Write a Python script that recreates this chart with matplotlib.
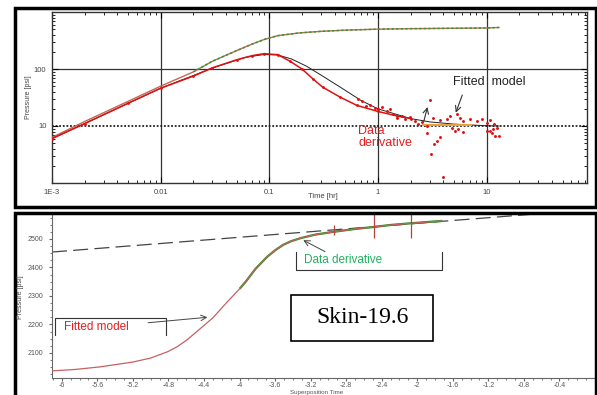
import matplotlib
matplotlib.use("Agg")
import matplotlib.pyplot as plt
from matplotlib.patches import Rectangle
from matplotlib.ticker import LogLocator, MultipleLocator, NullFormatter

plt.rcParams['font.family'] = ['Liberation Sans', 'DejaVu Sans']
plt.rcParams['axes.unicode_minus'] = False

# --- log-log panel (top) ---
t_press = [0.001, 0.002, 0.005, 0.01, 0.02, 0.03, 0.05, 0.07, 0.09, 0.12, 0.19, 0.3, 0.5, 1, 2, 5, 10, 13]
press = [6.3, 12, 27, 50, 89, 137, 210, 275, 330, 385, 430, 458, 480, 500, 510, 518, 525, 535]

t_deriv = [0.001, 0.002, 0.005, 0.01, 0.02, 0.03, 0.05, 0.07, 0.09, 0.12, 0.155, 0.2, 0.25, 0.31, 0.45, 0.64, 1.0, 1.5, 2.0]
deriv = [6.0, 11, 25, 46, 75, 105, 145, 172, 186, 178, 137, 100, 68, 48, 32, 23, 18, 15, 13.5]

t_model = [0.001, 0.01, 0.03, 0.06, 0.09, 0.12, 0.16, 0.22, 0.3, 0.45, 0.7, 1.0, 2.0, 3.0, 5.0, 10, 13]
model_deriv = [6.0, 46, 104, 160, 180, 176, 150, 112, 78, 48, 28, 20, 13.5, 11.8, 10.8, 10.1, 10]

noise_t = [0.66, 0.71, 0.78, 0.85, 0.94, 1.01, 1.09, 1.21, 1.30, 1.39, 1.49, 1.66, 1.78, 1.98, 2.20,
           2.36, 2.54, 2.82, 3.03, 3.24, 3.74, 4.31, 4.62, 5.33, 5.71, 6.13, 7.06, 8.14, 9.06, 10.1,
           10.8, 11.6, 12.4, 10.8, 11.2, 12.0, 2.82, 3.1, 3.3, 3.5, 3.7, 3.96, 4.8, 5.1, 5.5,
           6.1, 10.0, 11.5, 12.9]
noise_p = [30, 27, 22.4, 23, 20.9, 19.6, 21.8, 18.3, 19.6, 16, 14, 15, 13.1, 14.6, 12.2,
           10.7, 11.7, 10, 29, 14, 12.7, 13.4, 15, 16, 14, 12.2, 13.1, 12.2, 13.4, 11.4,
           12.7, 10.7, 9.4, 8.2, 7.45, 6.7, 7.65, 3.2, 4.8, 5.5, 6.3, 1.3, 9.4, 8.2, 8.8,
           7.7, 8.2, 8.8, 6.7]

t_flat = [2.6, 7.2]
p_flat = [10.6, 10.6]

log_ticks = [0.001, 0.01, 0.1, 1, 10]
log_labels = ['1E-3', '0.01', '0.1', '1', '10']

# --- superposition panel (bottom) ---
sup_time = [-6.11, -5.85, -5.57, -5.20, -5.00, -4.81, -4.70, -4.59, -4.45, -4.30, -4.15, -3.99, -3.93,
            -3.82, -3.69, -3.60, -3.51, -3.42, -3.31, -3.15, -2.94, -2.70, -2.49, -2.30, -2.07, -1.90, -1.73]
sup_press = [2037, 2042, 2051, 2068, 2082, 2104, 2122, 2146, 2183, 2223, 2275, 2328, 2350,
             2395, 2437, 2460, 2479, 2492, 2503, 2515, 2525, 2535, 2542, 2549, 2555, 2559, 2563]

line_time = [-6.11, 0.0]
line_press = [2454, 2604]

marker_time = [-2.94, -2.49, -2.07]
marker_lo = [2514, 2503, 2503]
marker_hi = [2549, 2591, 2591]

sup_ticks = [-6, -5.6, -5.2, -4.8, -4.4, -4, -3.6, -3.2, -2.8, -2.4, -2, -1.6, -1.2, -0.8, -0.4]
p_ticks = [2100, 2200, 2300, 2400, 2500]

W, H = 597, 395
fig = plt.figure(figsize=(W / 100, H / 100), dpi=100)


def box(x0, y0, x1, y1):
    # pixel box -> figure fraction [left, bottom, width, height]
    return [x0 / W, 1 - y1 / H, (x1 - x0) / W, (y1 - y0) / H]


# outer frames
fig.patches.append(Rectangle((14.5 / W, 1 - 207 / H), 581.5 / W, 199 / H, transform=fig.transFigure,
                             fill=False, lw=2.5, ec='black'))
fig.patches.append(Rectangle((14.5 / W, -5 / H), 581.5 / W, 187 / H, transform=fig.transFigure,
                             fill=False, lw=2.5, ec='black'))

ax1 = fig.add_axes(box(52, 12, 587, 183))
ax1.set_xscale('log')
ax1.set_yscale('log')
ax1.set_xlim(1e-3, 84)
ax1.set_ylim(1, 1000)

for v in log_ticks[1:]:
    ax1.axvline(v, color='#333333', lw=0.9, zorder=1)
ax1.axhline(100, color='#333333', lw=0.9, zorder=1)
ax1.axhline(10, color='#222222', lw=1.3, ls=(0, (1, 1)), zorder=1)

ax1.plot(t_press, press, color='#c06858', lw=1.0, zorder=3)
ax1.plot(t_press[4:], press[4:], color='#2f9a2f', lw=1.1, ls=(0, (1.5, 1.5)), zorder=4)
ax1.plot(t_model, model_deriv, color='#222222', lw=0.7, zorder=3)
ax1.plot(t_deriv, deriv, color='#e01010', lw=1.1, marker='.', ms=2, zorder=4)
ax1.plot(noise_t, noise_p, color='#e01010', lw=0, marker='.', ms=2.2, zorder=4)
ax1.plot(t_flat, p_flat, color='#e8a040', lw=1.5, zorder=3)

ax1.set_xticks(log_ticks)
ax1.set_xticklabels(log_labels)
ax1.xaxis.set_minor_locator(LogLocator(base=10, subs=range(2, 10), numticks=20))
ax1.xaxis.set_minor_formatter(NullFormatter())
ax1.set_yticks([10, 100])
ax1.set_yticklabels(['10', '100'])
ax1.yaxis.set_minor_locator(LogLocator(base=10, subs=range(2, 10), numticks=20))
ax1.yaxis.set_minor_formatter(NullFormatter())
ax1.tick_params(which='both', direction='in', top=True, right=True, labelsize=5.5,
                labelcolor='#444444', pad=4)
ax1.tick_params(which='major', length=4)
ax1.tick_params(which='minor', length=2.5)
for s in ax1.spines.values():
    s.set_color('#333333')
    s.set_linewidth(1.0)

fig.text(323 / W, 1 - 196 / H, 'Time [hr]', fontsize=5.5, color='#444444', ha='center', va='center')
fig.text(28 / W, 1 - 97 / H, 'Pressure [psi]', fontsize=5, color='#444444', rotation=90,
         ha='center', va='center')

ax1.text(4.9, 60, 'Fitted  model', fontsize=9, color='#222222', ha='left', va='center')
ax1.annotate('', xy=(5.1, 15.4), xytext=(6.1, 38.8),
             arrowprops=dict(arrowstyle='->', color='#333333', lw=0.8))
ax1.annotate('', xy=(2.9, 24), xytext=(2.6, 10.7),
             arrowprops=dict(arrowstyle='->', color='#333333', lw=0.8))
ax1.text(0.66, 6.5, 'Data\nderivative', fontsize=9, color='#e02020', ha='left', va='center',
         linespacing=1.0)

# --- bottom panel ---
ax2 = fig.add_axes(box(52, 213, 595, 378))
ax2.set_xlim(-6.11, 0.0)
ax2.set_ylim(2012, 2591)
ax2.plot(line_time, line_press, color='#444444', lw=0.9, ls=(0, (12, 5)), zorder=2)
ax2.plot(sup_time[11:], sup_press[11:], color='#1f8f1f', lw=1.6, zorder=3)
ax2.plot(sup_time, sup_press, color='#c86060', lw=0.9, zorder=4)
ax2.vlines(marker_time, marker_lo, marker_hi, color='#b84040', lw=0.9, zorder=5)

ax2.set_xticks(sup_ticks)
ax2.set_xticklabels(['%g' % v for v in sup_ticks])
ax2.xaxis.set_minor_locator(MultipleLocator(0.1))
ax2.set_yticks(p_ticks)
ax2.set_yticklabels([str(v) for v in p_ticks])
ax2.yaxis.set_minor_locator(MultipleLocator(25))
ax2.tick_params(which='both', direction='out', labelsize=5, labelcolor='#555555', color='#666666')
ax2.tick_params(axis='x', pad=0.5)
ax2.tick_params(which='major', length=2.5)
ax2.tick_params(which='minor', length=1.6)
ax2.spines['top'].set_visible(False)
ax2.spines['right'].set_visible(False)
for s in ('left', 'bottom'):
    ax2.spines[s].set_color('#666666')
    ax2.spines[s].set_linewidth(0.8)

fig.text(290 / W, 1 - 392.3 / H, 'Superposition Time', fontsize=4.5, color='#555555', ha='left', va='center')
fig.text(20 / W, 1 - 297 / H, 'Pressure [psi]', fontsize=5, color='#444444', rotation=90,
         ha='center', va='center')

# "Data derivative" bracket
ax2.plot([-3.37, -3.37, -1.72, -1.72], [2454, 2391, 2391, 2454], color='#333333', lw=0.8)
ax2.text(-3.28, 2425, 'Data derivative', fontsize=8.5, color='#22b060', ha='left', va='center')
ax2.annotate('', xy=(-3.31, 2500), xytext=(-3.01, 2451),
             arrowprops=dict(arrowstyle='->', color='#444444', lw=0.7))

# "Fitted model" bracket
ax2.plot([-6.08, -6.08, -4.83, -4.83], [2163, 2223, 2223, 2163], color='#333333', lw=0.8)
ax2.text(-5.97, 2192, 'Fitted model', fontsize=8.5, color='#e02020', ha='left', va='center')
ax2.annotate('', xy=(-4.33, 2226), xytext=(-5.06, 2205),
             arrowprops=dict(arrowstyle='->', color='#444444', lw=0.7))

# skin box
ax2.add_patch(Rectangle((-3.42, 2142), 1.60, 162, fc='white', ec='black', lw=1.2, zorder=6))
ax2.text(-2.62, 2223, 'Skin-19.6', fontsize=17, family='Liberation Serif', color='black',
         ha='center', va='center', zorder=7)

fig.savefig('out.png', dpi=100)
